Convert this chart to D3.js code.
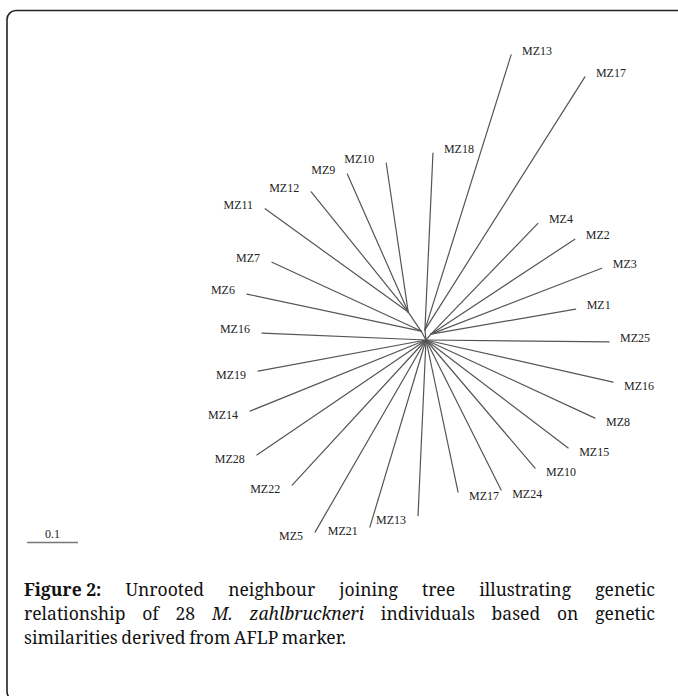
<!DOCTYPE html>
<html><head><meta charset="utf-8">
<script src="https://cdn.jsdelivr.net/npm/d3@7"></script>
<style>html,body{margin:0;padding:0;background:#fff;} svg{display:block}</style>
</head><body>
<svg id="c" width="678" height="696"></svg>
<script>
// Internal nodes of the unrooted NJ tree (branch length in distance units, angle in degrees)
const internalNames   = ["R", "ML", "UL", "UR", "T"];
const internalParents = [null, "R", "ML", "R", "R"];
const internalLengths = [0, 0.020, 0.045, 0.015, 0.020];
const internalAngles  = [0, 119, 124, 50, 96];

// Leaves
const leafNames   = ["MZ13","MZ17","MZ18","MZ4","MZ2","MZ3","MZ1","MZ25","MZ16","MZ8","MZ15","MZ10","MZ24","MZ17",
                     "MZ13","MZ21","MZ5","MZ22","MZ28","MZ14","MZ19","MZ16","MZ6","MZ7","MZ11","MZ12","MZ9","MZ10"];
const leafParents = ["T","T","T","UR","UR","UR","UR","R","R","R","R","R","R","R",
                     "R","R","R","R","R","R","R","R","ML","ML","UL","UL","UL","UL"];
const leafLengths = [0.565,0.587,0.347,0.302,0.338,0.359,0.288,0.359,0.376,0.365,0.350,0.330,0.329,0.305,
                     0.345,0.383,0.435,0.387,0.401,0.372,0.335,0.322,0.349,0.322,0.346,0.303,0.296,0.295];
const leafAngles  = [72.6,57.7,87.4,46.0,33.4,21.1,9.8,359.4,347.3,335.2,322.8,310.4,296.6,281.9,
                     267.4,253.3,240.0,227.3,214.2,202.0,190.5,177.6,168.0,155.2,144.2,128.9,113.8,98.4];

const scaleBarValue = 0.1;
const scaleBarLabel = "0.1";

const captionLines = [
  [["Figure 2:","bold"],["Unrooted"],["neighbour"],["joining"],["tree"],["illustrating"],["genetic"]],
  [["relationship"],["of"],["28"],["M.","italic"],["zahlbruckneri","italic"],["individuals"],["based"],["on"],["genetic"]],
  [["similarities"],["derived"],["from"],["AFLP"],["marker."]]
];

const svg = d3.select("#c");

// frame
svg.append("rect").attr("x",7).attr("y",10.5).attr("width",720).attr("height",690).attr("rx",9)
  .attr("fill","none").attr("stroke","#222").attr("stroke-width",1.6);

// scales: tree units -> pixels
const unitPx = 510;
const x = d3.scaleLinear().domain([0,1]).range([426, 426+unitPx]);
const y = d3.scaleLinear().domain([0,1]).range([340, 340-unitPx]);
const len = d3.scaleLinear().domain([0,1]).range([0, unitPx]);

const pos = {};
internalNames.forEach((n,i)=>{
  const p = internalParents[i];
  if(!p){ pos[n]={ux:0,uy:0}; return; }
  const a = internalAngles[i]*Math.PI/180;
  pos[n] = {ux: pos[p].ux + internalLengths[i]*Math.cos(a), uy: pos[p].uy + internalLengths[i]*Math.sin(a)};
});

const edges = [];
internalNames.forEach((n,i)=>{ if(internalParents[i]) edges.push({from:pos[internalParents[i]], to:pos[n]}); });
const leaves = leafNames.map((n,i)=>{
  const p = pos[leafParents[i]];
  const a = leafAngles[i]*Math.PI/180;
  const to = {ux: p.ux + leafLengths[i]*Math.cos(a), uy: p.uy + leafLengths[i]*Math.sin(a)};
  edges.push({from:p, to:to});
  return {name:n, to:to, cos:Math.cos(a), sin:Math.sin(a)};
});

svg.append("g").selectAll("line").data(edges).join("line")
  .attr("x1",d=>x(d.from.ux)).attr("y1",d=>y(d.from.uy))
  .attr("x2",d=>x(d.to.ux)).attr("y2",d=>y(d.to.uy))
  .attr("stroke","#555").attr("stroke-width",1.2).attr("stroke-linecap","round");

svg.append("g").selectAll("text").data(leaves).join("text")
  .attr("x",d=>x(d.to.ux) + (d.cos>=0 ? 11 : -12))
  .attr("y",d=>y(d.to.uy) + (d.sin < -0.15 ? 8 : 0))
  .attr("text-anchor",d=>d.cos>=0?"start":"end")
  .style("font-family","Liberation Serif")
  .attr("font-size",12).attr("fill","#222")
  .text(d=>d.name);

// scale bar
const sbx = 27, sby = 542.5;
svg.append("line").attr("x1",sbx).attr("x2",sbx+len(scaleBarValue)).attr("y1",sby).attr("y2",sby)
  .attr("stroke","#777").attr("stroke-width",1.6);
svg.append("text").attr("x",sbx+len(scaleBarValue)/2).attr("y",538).attr("text-anchor","middle")
  .style("font-family","Liberation Serif").attr("font-size",12).attr("fill","#222").text(scaleBarLabel);

// caption (justified)
const capLeft = 24, capRight = 655, capBase = [596, 620, 644];
const cap = svg.append("g").style("font-family","'Noto Serif', 'DejaVu Serif', serif")
  .attr("font-size",17.5).attr("fill","#111");
captionLines.forEach((words, li)=>{
  const els = words.map(w=>{
    const t = cap.append("text").attr("y",capBase[li]).text(w[0]);
    if(w[1]==="bold") t.attr("font-weight","bold");
    if(w[1]==="italic") t.attr("font-style","italic");
    return t;
  });
  const widths = els.map(e=>e.node().getComputedTextLength());
  const total = d3.sum(widths);
  let gap = (capRight-capLeft-total)/(words.length-1);
  if(li===captionLines.length-1) gap = 3.6;
  let cx = capLeft;
  els.forEach((e,i)=>{ e.attr("x",cx); cx += widths[i]+gap; });
});
</script>
</body></html>
